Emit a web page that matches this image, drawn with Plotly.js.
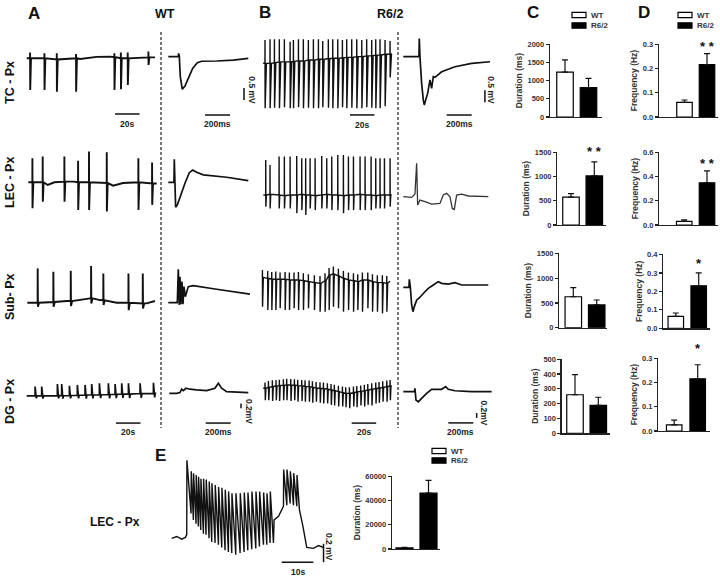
<!DOCTYPE html>
<html><head><meta charset="utf-8">
<script src="https://cdn.plot.ly/plotly-3.0.1.min.js"></script>
<style>html,body{margin:0;padding:0;background:#fff}#chart{width:720px;height:577px}</style>
</head><body><div id="chart"></div>
<script>
// ================= DATA =================
const groups = ['WT', 'R6/2'];
const regions = ['TC - Px', 'LEC - Px', 'Sub- Px', 'DG - Px'];

// Panel C: event duration (ms), mean and upper SEM
const durWT = [1230, 575, 625, 260];
const durWTerr = [340, 70, 185, 135];
const durR6 = [805, 1010, 460, 188];
const durR6err = [255, 290, 100, 55];
const durMax = [2000, 1500, 1500, 500];
const durStep = [500, 500, 500, 100];
const durStars = ['', '* *', '', ''];
// Panel D: event frequency (Hz)
const freqWT = [0.06, 0.03, 0.065, 0.025];
const freqWTerr = [0.01, 0.012, 0.018, 0.02];
const freqR6 = [0.216, 0.347, 0.23, 0.216];
const freqR6err = [0.045, 0.098, 0.07, 0.058];
const freqMax = [0.3, 0.6, 0.4, 0.3];
const freqStep = [0.1, 0.2, 0.1, 0.1];
const freqStars = ['* *', '* *', '*', '*'];
// Panel E bar: duration (ms)
const eDur = [1000, 46000];
const eDurErr = [400, 10500];
const eDurMax = 60000, eDurStep = 20000;

// ---- Long recordings (time s, potential mV relative to baseline) ----
// WT TC
const tcWT_knotT = [1.4, 45, 58.5, 69.4, 106.1];
const tcWT_knotV = [0, -0.03, 0.06, 0.07, 0.04];
const tcWT_spT = [4.1, 15.8, 25.9, 41.6, 72.9, 78.2, 83.8, 100.7];
const tcWT_base = [0, 0, -0.05, 0, 0.05, 0, 0, 0.04];
const tcWT_up = [0.24, 0.21, 0.21, 0.18, 0.21, 0.24, 0.24, 0.28];
const tcWT_down = [-1.32, -1.32, -1.39, -1.39, -1.32, -1.29, -1.11, -0.28];
// WT LEC
const lecWT_knotT = [2.7, 18.5, 24, 40, 72, 80, 107.5];
const lecWT_knotV = [0, -0.11, 0, 0.03, -0.14, -0.03, -0.05];
const lecWT_spT = [6.0, 14.4, 32.1, 43.3, 52.2, 66.7, 92.5, 103.7];
const lecWT_base = [0, 0, 0.03, 0, 0, -0.03, 0, -0.05];
const lecWT_up = [1.0, 1.07, 1.07, 0.9, 1.28, 1.25, 1.0, 0.82];
const lecWT_down = [-1.08, -0.81, -0.81, -1.15, -1.15, -1.22, -1.15, -0.94];
// WT Sub
const subWT_knotT = [1.9, 34.0, 53.1, 61.2, 74.8, 99.3, 106.1];
const subWT_knotV = [0, 0.07, 0.18, 0.11, 0, -0.03, 0.07];
const subWT_spT = [10.3, 23.1, 37.3, 53.9, 63.9, 84.4, 96.1];
const subWT_base = [0.0, 0.03, 0.07, 0.18, 0.1, 0, -0.03];
const subWT_up = [1.43, 1.29, 1.33, 1.53, 1.22, 1.22, 1.22];
const subWT_down = [-0.17, -0.17, -0.14, -0.03, -0.1, -0.31, -0.24];
// WT DG
const dgWT_knotT = [1.4, 106.1];
const dgWT_knotV = [-0.04, 0.07];
const dgWT_spT = [8.2, 13.6, 26.4, 29.9, 36.2, 42.7, 49.0, 54.4, 60.7, 68.0, 73.5, 78.9, 84.4, 93.9, 104.8];
const dgWT_base = [-0.04, -0.04, -0.03, -0.03, -0.02, -0.01, 0, 0, 0.01, 0.02, 0.03, 0.04, 0.04, 0.06, 0.07];
const dgWT_up = [0.35, 0.35, 0.46, 0.46, 0.38, 0.42, 0.42, 0.46, 0.49, 0.49, 0.46, 0.49, 0.49, 0.49, 0.51];
const dgWT_down = [-0.14, -0.15, -0.14, -0.15, -0.14, -0.14, -0.15, -0.14, -0.13, -0.14, -0.13, -0.12, -0.13, -0.12, -0.1];
// R6/2 TC
const tcR6_knotT = [0.8, 106.0];
const tcR6_knotV = [-0.2, 0.2];
const tcR6_spT = [2.4, 6.5, 10.1, 14.1, 18.2, 22.9, 25.6, 29.7, 33.7, 37.8, 41.9, 46.0, 49.5, 54.1, 57.7, 61.8, 65.6, 69.1, 73.2, 77.3, 81.4, 85.4, 89.5, 92.8, 96.3, 100.4, 104.5];
const tcR6_base = [-0.21, -0.21, -0.18, -0.15, -0.14, -0.15, -0.13, -0.10, -0.11, -0.07, -0.07, -0.04, -0.04, -0.01, 0, 0, 0.03, 0.04, 0.04, 0.07, 0.07, 0.10, 0.11, 0.13, 0.14, 0.17, 0.18];
const tcR6_up = [0.76, 0.79, 0.79, 0.79, 0.79, 0.69, 0.76, 0.79, 0.79, 0.76, 0.79, 0.79, 0.72, 0.79, 0.79, 0.79, 0.76, 0.79, 0.79, 0.79, 0.76, 0.79, 0.76, 0.79, 0.79, 0.76, 0.72];
const tcR6_down = [-2.08, -2.08, -2.06, -2.08, -2.04, -2.08, -2.08, -2.04, -2.08, -2.06, -2.08, -2.08, -2.04, -2.06, -2.08, -2.08, -2.04, -2.08, -2.06, -2.08, -2.08, -2.04, -2.06, -2.08, -2.08, -2.0, -0.8];
// R6/2 LEC
const lecR6_knotT = [1.1, 105.9];
const lecR6_knotV = [0, 0];
const lecR6_spT = [3.0, 6.5, 13.9, 18.2, 22.9, 28.3, 32.4, 35.6, 39.2, 43.3, 48.7, 52.8, 56.9, 61.8, 66.4, 70.5, 74.6, 80.0, 84.1, 89.0, 92.8, 96.3, 99.9, 104.5];
const lecR6_base = [0, 0.03, 0, -0.03, 0, 0, 0.03, 0, 0, -0.03, 0, 0.03, 0, 0, -0.03, 0, 0, 0.03, 0, 0, -0.03, 0, 0, 0];
const lecR6_up = [1.46, 1.25, 1.6, 1.6, 1.6, 1.63, 1.53, 1.53, 1.53, 1.53, 1.63, 1.53, 1.6, 1.67, 1.67, 1.6, 1.6, 1.6, 1.6, 1.6, 1.53, 1.53, 1.53, 1.53];
const lecR6_down = [-0.49, -0.56, -0.56, -0.56, -0.56, -0.76, -0.63, -0.83, -0.56, -0.63, -0.56, -0.56, -0.63, -0.63, -0.76, -0.63, -0.63, -0.63, -0.63, -0.63, -0.56, -0.56, -0.56, -0.49];
// R6/2 Sub
const subR6_knotT = [0, 104.5];
const subR6_knotV = [0.11, -0.05];
const subR6_spT = [0.3, 4.6, 7.9, 11.2, 14.7, 18.8, 22.3, 26.1, 29.7, 33.7, 37.8, 42.7, 47.3, 51.4, 54.7, 58.2, 62.3, 66.4, 70.5, 74.6, 78.1, 81.9, 86.3, 90.1, 94.1, 98.2, 101.8];
const subR6_base = [0.11, 0.07, 0.03, 0.03, 0.03, 0.03, 0, 0, 0, -0.03, -0.07, -0.11, -0.14, -0.03, 0.21, 0.25, 0.17, 0.07, 0, -0.03, -0.07, 0, 0, -0.07, -0.11, -0.11, -0.14];
const subR6_up = [0.42, 0.38, 0.33, 0.35, 0.31, 0.33, 0.31, 0.31, 0.33, 0.28, 0.24, 0.2, 0.17, 0.28, 0.5, 0.56, 0.47, 0.38, 0.31, 0.28, 0.24, 0.31, 0.31, 0.24, 0.2, 0.2, 0.17];
const subR6_down = [-1.11, -1.25, -1.25, -1.25, -1.18, -1.25, -1.25, -1.18, -1.25, -1.25, -1.18, -1.25, -1.32, -1.32, -1.25, -1.11, -1.18, -1.32, -1.25, -1.32, -1.25, -1.32, -1.18, -1.32, -1.32, -1.39, -1.32];
// R6/2 DG
const dgR6_knotT = [1.0, 106.0];
const dgR6_knotV = [0, 0.1];
const dgR6_spT = [2.4, 5.2, 8.4, 11.4, 14.1, 17.4, 20.1, 23.4, 26.4, 29.1, 32.4, 35.1, 38.4, 41.1, 44.1, 47.3, 50.1, 53.3, 56.3, 59.0, 62.3, 65.6, 68.3, 71.3, 74.6, 77.3, 80.5, 83.5, 86.3, 89.5, 92.8, 95.5, 98.5, 101.8, 104.5];
const dgR6_base = [0, 0.04, 0.07, 0.1, 0.11, 0.13, 0.14, 0.14, 0.13, 0.11, 0.1, 0.08, 0.07, 0.04, 0.01, 0, -0.01, -0.04, -0.07, -0.1, -0.14, -0.18, -0.21, -0.21, -0.18, -0.15, -0.13, -0.1, -0.07, -0.04, -0.01, 0.01, 0.04, 0.07, 0.1];
const dgR6_up = [0.24, 0.3, 0.33, 0.35, 0.36, 0.38, 0.4, 0.39, 0.38, 0.36, 0.35, 0.33, 0.32, 0.29, 0.26, 0.25, 0.24, 0.21, 0.18, 0.15, 0.11, 0.07, 0.04, 0.04, 0.07, 0.1, 0.12, 0.15, 0.18, 0.21, 0.24, 0.26, 0.29, 0.32, 0.35];
const dgR6_down = [-0.5, -0.5, -0.53, -0.5, -0.53, -0.5, -0.5, -0.53, -0.5, -0.56, -0.53, -0.56, -0.56, -0.6, -0.56, -0.6, -0.63, -0.63, -0.69, -0.72, -0.76, -0.76, -0.79, -0.83, -0.76, -0.79, -0.72, -0.76, -0.69, -0.72, -0.63, -0.6, -0.56, -0.56, -0.5];

// ---- Averaged events (time ms, potential mV) ----
const tcWTavg_ms = [0, 80, 82.7, 88, 96, 112, 133.3, 160, 194.7, 232, 266.7, 386.7, 520, 640];
const tcWTavg_mV = [0, 0, 0.14, 0.03, -0.83, -1.36, -1.22, -0.9, -0.49, -0.25, -0.19, -0.18, -0.14, -0.07];
const lecWTavg_ms = [0, 45.3, 48, 53.3, 58.7, 72, 93.3, 133.3, 168, 194.7, 226.7, 280, 466.7, 640];
const lecWTavg_mV = [0, 0, 0.96, -0.04, -1.04, -0.94, -0.63, -0.04, 0.4, 0.51, 0.42, 0.31, 0.21, 0.07];
const subWTavg_ms = [0, 72, 80, 88, 93.3, 101.3, 109.3, 117.3, 125.3, 136, 160, 200, 386.7, 653.3];
const subWTavg_mV = [0, 0, 1.39, -0.1, 1.08, -0.06, 0.88, -0.06, 0.67, 0.25, 0.67, 0.71, 0.56, 0.36];
const dgWTavg_ms = [8, 66.7, 93.3, 106.7, 120, 141.3, 173.3, 226.7, 306.7, 373.3, 400, 426.7, 466.7, 640];
const dgWTavg_mV = [0, 0, 0.03, 0.17, 0.11, 0.21, 0.17, 0.14, 0.11, 0.21, 0.42, 0.21, 0.07, 0.03];
const tcR6avg_ms = [0, 125.3, 128, 133.3, 146.7, 160, 168, 178.7, 194.7, 213.3, 226.7, 240, 253.3, 306.7, 413.3, 546.7, 693.3];
const tcR6avg_mV = [0, 0, 0.76, 0, -1.11, -1.81, -2.01, -1.81, -1.53, -0.97, -1.32, -0.83, -0.86, -0.63, -0.42, -0.28, -0.21];
const lecR6avg_ms = [0, 66.7, 93.3, 106.7, 114.7, 133.3, 173.3, 226.7, 293.3, 320, 346.7, 373.3, 392, 408, 426.7, 466.7, 520, 680];
const lecR6avg_mV = [0, -0.03, 0.11, 1.39, -0.35, -0.14, -0.21, -0.31, -0.28, 0.07, 0.14, 0, -0.49, -0.53, 0.07, 0.11, 0.03, 0];
const subR6avg_ms = [0, 45.3, 48, 56, 66.7, 77.3, 88, 106.7, 133.3, 173.3, 200, 240, 280, 306.7, 360, 413.3, 466.7, 680];
const subR6avg_mV = [-0.03, -0.03, 0.31, 0, -0.76, -1.04, -0.83, -0.56, -0.44, -0.21, -0.07, 0.07, 0.21, 0.14, 0.11, 0.17, 0.07, 0.07];
const dgR6avg_ms = [0, 88, 93.3, 101.3, 120, 146.7, 186.7, 226.7, 306.7, 338.7, 360, 413.3, 546.7, 706.7];
const dgR6avg_mV = [0, 0, 0.14, -0.35, -0.42, -0.28, -0.07, 0.1, 0.1, 0.21, 0.1, 0.04, 0, 0];

// ---- Panel E: R6/2 LEC long event (time s, mV) ----
const eKnotT = [0, 1.58, 3.16, 4.32, 32.1, 32.3, 33.7, 40.3, 41.4, 42.6, 44.7, 46.3, 47.9];
const eKnotV = [0, 0.02, -0.01, 0.01, -0.05, 0.2, 0.24, 0.31, 0.13, -0.10, -0.11, -0.08, -0.10];
const eSpT = [4.74, 6.11, 6.84, 7.68, 8.42, 9.16, 10.0, 10.84, 11.79, 12.63, 13.68, 14.74, 15.79, 16.84, 17.89, 18.95, 20.21, 21.58, 22.84, 24.0, 25.26, 26.53, 27.68, 28.95, 30.0, 31.05, 35.26, 36.32, 37.37, 38.42, 39.47];
const eSpTop = [0.85, 0.73, 0.71, 0.69, 0.67, 0.65, 0.65, 0.64, 0.62, 0.60, 0.58, 0.56, 0.55, 0.53, 0.51, 0.49, 0.49, 0.49, 0.50, 0.50, 0.51, 0.51, 0.51, 0.50, 0.49, 0.51, 0.75, 0.75, 0.73, 0.71, 0.69];
const eSpBot = [0.04, 0.27, 0.20, 0.16, 0.13, 0.09, 0.05, 0.04, 0, -0.04, -0.05, -0.07, -0.10, -0.13, -0.15, -0.16, -0.18, -0.16, -0.15, -0.13, -0.12, -0.11, -0.09, -0.07, -0.07, -0.05, 0.35, 0.36, 0.38, 0.36, 0.35];

// ================= BUILD =================
const W = 720, H = 577;
const data = [], shapes = [], annotations = [];
const FONT = 'Arial, "Liberation Sans", sans-serif';
const layout = {
  width: W, height: H, margin: {l: 0, r: 0, t: 0, b: 0, pad: 0},
  paper_bgcolor: '#fff', plot_bgcolor: 'rgba(0,0,0,0)', showlegend: false,
  font: {family: FONT, color: '#222'}
};
let nAx = 0;
function addAxes(xa, ya) {
  nAx++;
  const s = nAx === 1 ? '' : String(nAx);
  layout['xaxis' + s] = Object.assign({anchor: 'y' + s}, xa);
  layout['yaxis' + s] = Object.assign({anchor: 'x' + s}, ya);
  return {x: 'x' + s, y: 'y' + s};
}
const hidden = {visible: false, fixedrange: true, showgrid: false, zeroline: false};
function xSpan(px0, px1, zeroPx, ppu) { return Object.assign({domain: [px0 / W, px1 / W], range: [(px0 - zeroPx) / ppu, (px1 - zeroPx) / ppu]}, hidden); }
function ySpan(pyTop, pyBot, zeroPy, ppu) { return Object.assign({domain: [1 - pyBot / H, 1 - pyTop / H], range: [(zeroPy - pyBot) / ppu, (zeroPy - pyTop) / ppu]}, hidden); }

function spikeTrain(kT, kV, sT, sB, sU, sD, dDown, dRec) {
  const ev = [];
  kT.forEach((t, i) => ev.push({t: t, p: [[t, kV[i]]]}));
  sT.forEach((t, i) => ev.push({t: t, p: [[t, sB[i]], [t + 0.05, sU[i]], [t + dDown, sD[i]], [t + dRec, sB[i]]]}));
  ev.sort((a, b) => a.t - b.t);
  const x = [], y = [];
  ev.forEach(e => e.p.forEach(q => { x.push(q[0]); y.push(q[1]); }));
  return {x, y};
}
function sawtooth(kT, kV, sT, sBot, sTop) {
  const ev = [];
  kT.forEach((t, i) => ev.push({t: t, p: [[t, kV[i]]]}));
  sT.forEach((t, i) => ev.push({t: t, p: [[t, sBot[i]], [t + 0.06, sTop[i]]]}));
  ev.sort((a, b) => a.t - b.t);
  const x = [], y = [];
  ev.forEach(e => e.p.forEach(q => { x.push(q[0]); y.push(q[1]); }));
  return {x, y};
}
function line(ax, xy, w, col) {
  data.push({type: 'scatter', mode: 'lines', x: xy.x, y: xy.y, xaxis: ax.x, yaxis: ax.y,
    line: {color: col || '#111', width: w || 1.4, simplify: false}, hoverinfo: 'skip'});
}
function hBar(ax, x0, x1, y, label, ly) {
  shapes.push({type: 'line', xref: ax.x, yref: ax.y, x0: x0, x1: x1, y0: y, y1: y, line: {color: '#111', width: 1.5}});
  annotations.push({xref: ax.x, yref: ax.y, x: (x0 + x1) / 2, y: ly, text: label, showarrow: false,
    font: {family: FONT, size: 8.5, color: '#222', weight: 700}});
}
function vBar(ax, x, y0, y1, label, lx, ly) {
  shapes.push({type: 'line', xref: ax.x, yref: ax.y, x0: x, x1: x, y0: y0, y1: y1, line: {color: '#111', width: 1.5}});
  annotations.push({xref: ax.x, yref: ax.y, x: lx, y: ly, text: label, showarrow: false, textangle: 90,
    font: {family: FONT, size: 8.5, color: '#222', weight: 700}});
}

// rows
const bands = [[28, 128], [135, 232], [242, 342], [350, 442]];
const longZeroA = [58.3, 182.3, 302.7, 395], longZeroB = [58.3, 195, 280, 388.3];
const avgZeroA = [56.7, 182.3, 302.7, 393.3], avgZeroB = [56.7, 196.7, 286.7, 391.7];
const longWT = [
  spikeTrain(tcWT_knotT, tcWT_knotV, tcWT_spT, tcWT_base, tcWT_up, tcWT_down, 0.15, 0.8),
  spikeTrain(lecWT_knotT, lecWT_knotV, lecWT_spT, lecWT_base, lecWT_up, lecWT_down, 0.15, 0.8),
  spikeTrain(subWT_knotT, subWT_knotV, subWT_spT, subWT_base, subWT_up, subWT_down, 0.25, 1.2),
  spikeTrain(dgWT_knotT, dgWT_knotV, dgWT_spT, dgWT_base, dgWT_up, dgWT_down, 1.0, 1.6)
];
const longR6 = [
  spikeTrain(tcR6_knotT, tcR6_knotV, tcR6_spT, tcR6_base, tcR6_up, tcR6_down, 0.15, 1.2),
  spikeTrain(lecR6_knotT, lecR6_knotV, lecR6_spT, lecR6_base, lecR6_up, lecR6_down, 0.15, 0.6),
  spikeTrain(subR6_knotT, subR6_knotV, subR6_spT, subR6_base, subR6_up, subR6_down, 0.15, 0.8),
  spikeTrain(dgR6_knotT, dgR6_knotV, dgR6_spT, dgR6_base, dgR6_up, dgR6_down, 0.3, 0.8)
];
const avgWT = [{x: tcWTavg_ms, y: tcWTavg_mV}, {x: lecWTavg_ms, y: lecWTavg_mV}, {x: subWTavg_ms, y: subWTavg_mV}, {x: dgWTavg_ms, y: dgWTavg_mV}];
const avgR6 = [{x: tcR6avg_ms, y: tcR6avg_mV}, {x: lecR6avg_ms, y: lecR6avg_mV}, {x: subR6avg_ms, y: subR6avg_mV}, {x: dgR6avg_ms, y: dgR6avg_mV}];
const axLA = [], axAA = [], axLB = [], axAB = [];
for (let r = 0; r < 4; r++) {
  const b = bands[r];
  axLA.push(addAxes(xSpan(22, 160, 25, 1.225), ySpan(b[0], b[1], longZeroA[r], 24)));
  line(axLA[r], longWT[r], r === 3 ? 1.7 : 1.9);
  axAA.push(addAxes(xSpan(164, 258, 168.3, 0.125), ySpan(b[0], b[1], avgZeroA[r], 24)));
  line(axAA[r], avgWT[r], 1.7);
  axLB.push(addAxes(xSpan(258, 396, 262, 1.225), ySpan(b[0], b[1], longZeroB[r], 24)));
  line(axLB[r], longR6[r], 1.4);
  axAB.push(addAxes(xSpan(400, 497, 403.3, 0.125), ySpan(b[0], b[1], avgZeroB[r], 24)));
  line(axAB[r], avgR6[r], r === 1 ? 1.3 : 1.7, r === 1 ? '#333' : '#111');
}
// scale bars
hBar(axLA[0], 73.5, 93.5, -2.32, '20s', -2.72);
hBar(axAA[0], 293.6, 493.6, -2.43, '200ms', -2.8);
vBar(axAA[0], 605.6, -1.30, -1.80, '0.5 mV', 669, -1.4);
hBar(axLB[0], 71.8, 91.8, -2.36, '20s', -2.76);
hBar(axAB[0], 347, 547, -2.43, '200ms', -2.8);
vBar(axAB[0], 653, -1.4, -1.9, '0.5 mV', 702, -1.4);
hBar(axLA[3], 74.3, 94.3, -1.17, '20s', -1.56);
hBar(axAA[3], 299, 499, -1.24, '200ms', -1.62);
vBar(axAA[3], 581.6, -0.42, -0.62, '0.2mV', 640, -0.75);
hBar(axLB[3], 73.2, 93.2, -1.45, '20s', -1.84);
hBar(axAB[3], 360, 560, -1.30, '200ms', -1.68);
vBar(axAB[3], 587, -0.89, -1.09, '0.2mV', 645, -0.9);

// Panel E trace
const axE = addAxes(xSpan(168, 340, 171.7, 3.17), ySpan(455, 577, 538.3, 91.7));
line(axE, sawtooth(eKnotT, eKnotV, eSpT, eSpBot, eSpTop), 1.4);
hBar(axE, 34.7, 44.7, -0.26, '10s', -0.37);
vBar(axE, 47.9, -0.06, -0.26, '0.2 mV', 49.8, -0.09);

// Bar charts
const boxesC = [
  {ax: 550, end: 602, c0: 565, c1: 588.5, top: 44, bot: 117},
  {ax: 557.3, end: 606, c0: 571, c1: 594.3, top: 152, bot: 225},
  {ax: 559.3, end: 607.3, c0: 573.3, c1: 596.7, top: 253.3, bot: 327.7},
  {ax: 561.7, end: 610, c0: 575, c1: 598.3, top: 359, bot: 433.3}];
const boxesD = [
  {ax: 659, end: 718, c0: 684.5, c1: 707, top: 44, bot: 117},
  {ax: 659.3, end: 718, c0: 684.2, c1: 707, top: 152, bot: 225},
  {ax: 663.3, end: 710, c0: 675.8, c1: 698.7, top: 254.3, bot: 328.3},
  {ax: 658.3, end: 710, c0: 674.2, c1: 697.7, top: 358.3, bot: 431}];
const boxE = {ax: 392, end: 440, c0: 404.5, c1: 428.5, top: 476, bot: 549};
const starShift = {C: [0, 5, 0, 0], D: [2, 2, 4, 11]};
function barChart(box, vals, errs, yMax, yStep, title, fmt, stars, shift, barPx) {
  const unit = box.c1 - box.c0;
  const ax = addAxes(
    {type: 'category', domain: [box.ax / W, box.end / W], range: [-(box.c0 - box.ax) / unit, 1 + (box.end - box.c1) / unit],
     showline: true, linecolor: '#222', linewidth: 1.3, showticklabels: false, ticks: '', showgrid: false, zeroline: false, fixedrange: true},
    {domain: [1 - box.bot / H, 1 - box.top / H], range: [0, yMax * 1.002], dtick: yStep, tick0: 0, tickformat: fmt,
     showline: true, linecolor: '#222', linewidth: 1.3, ticks: 'outside', ticklen: 3, tickwidth: 1.2, tickcolor: '#222',
     tickfont: {family: FONT, size: 7.5, color: '#333', weight: 700}, showgrid: false, zeroline: false, fixedrange: true,
     title: {text: title, font: {family: FONT, size: 8.5, color: '#333', weight: 700}, standoff: 3}});
  data.push({type: 'bar', x: groups, y: vals, xaxis: ax.x, yaxis: ax.y, width: (barPx || 16) / unit,
    marker: {color: ['#fff', '#000'], line: {color: '#000', width: 1.2}},
    error_y: {type: 'data', symmetric: false, array: errs, arrayminus: [0, 0], color: '#111', thickness: 1.2, width: 3},
    hoverinfo: 'skip'});
  if (stars) annotations.push({xref: ax.x, yref: ax.y, x: 1, y: vals[1] + errs[1], yanchor: 'bottom', yshift: shift - 4,
    text: stars, showarrow: false, font: {family: FONT, size: 13, color: '#111', weight: 700}});
  return ax;
}
for (let r = 0; r < 4; r++) {
  barChart(boxesC[r], [durWT[r], durR6[r]], [durWTerr[r], durR6err[r]], durMax[r], durStep[r], 'Duration (ms)', 'd', durStars[r], starShift.C[r], 16.5);
  barChart(boxesD[r], [freqWT[r], freqR6[r]], [freqWTerr[r], freqR6err[r]], freqMax[r], freqStep[r], 'Frequency (Hz)', '.1f', freqStars[r], starShift.D[r], 15.5);
}
barChart(boxE, eDur, eDurErr, eDurMax, eDurStep, 'Duration (ms)', 'd', '', 0, 17);

// legends
function legend(px, pyWT, pyR6) {
  [[pyWT, '#fff', groups[0]], [pyR6, '#000', groups[1]]].forEach(l => {
    shapes.push({type: 'rect', xref: 'paper', yref: 'paper', x0: px / W, x1: (px + 14) / W, y0: 1 - (l[0] + 2.7) / H, y1: 1 - (l[0] - 2.7) / H,
      line: {color: '#000', width: 1.2}, fillcolor: l[1]});
    annotations.push({xref: 'paper', yref: 'paper', x: (px + 16.5) / W, y: 1 - l[0] / H, xanchor: 'left', yanchor: 'middle', text: l[2], showarrow: false,
      font: {family: FONT, size: 8, color: '#333', weight: 700}});
  });
}
legend(572, 15, 25.5);
legend(678, 15, 25.5);
legend(432, 451, 460.5);

// dashed separators
[161, 398].forEach(px => shapes.push({type: 'line', xref: 'paper', yref: 'paper', x0: px / W, x1: px / W, y0: 1 - 32 / H, y1: 1 - 428 / H,
  line: {color: '#333', width: 1.3, dash: '3px,2px'}}));

// headings & labels
function label(px, py, text, size, angle) {
  annotations.push({xref: 'paper', yref: 'paper', x: px / W, y: 1 - py / H, text: '<b>' + text + '</b>', showarrow: false,
    textangle: angle || 0, xanchor: 'center', yanchor: 'middle', font: {family: FONT, size: size, color: '#111'}});
}
label(34, 13, 'A', 17); label(265, 12.5, 'B', 17); label(532.5, 12.5, 'C', 17); label(644, 12.5, 'D', 17); label(160, 455, 'E', 17);
label(165, 13.5, groups[0], 12.5); label(390, 13.5, groups[1], 12.5);
const rowY = [83, 183, 297, 402];
regions.forEach((t, i) => label(10, rowY[i], t, 12.5, -90));
label(115, 522, regions[1], 12);

layout.shapes = shapes;
layout.annotations = annotations;
Plotly.newPlot('chart', data, layout, {staticPlot: true, displayModeBar: false});
</script>
</body></html>
